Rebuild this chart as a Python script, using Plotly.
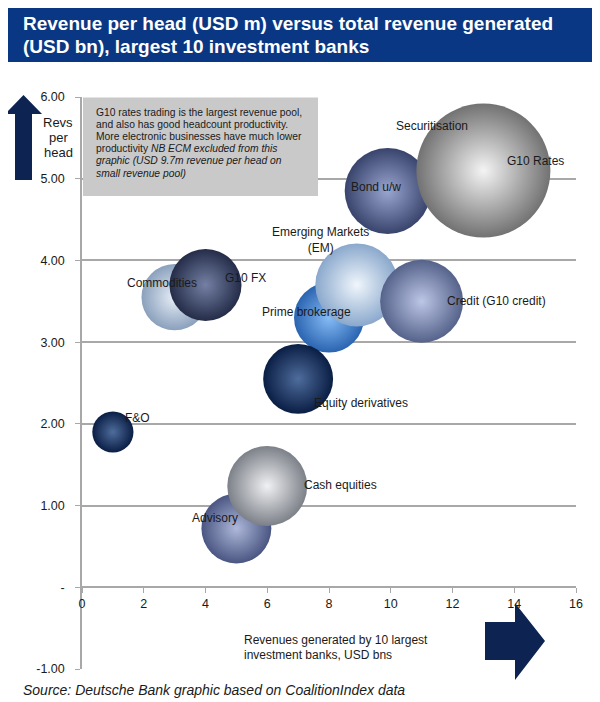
import plotly.graph_objects as go

# ---------------- data ----------------
categories = ["Commodities", "G10 FX", "Prime brokerage", "Emerging Markets<br>(EM)",
              "Credit (G10 credit)", "Securitisation", "Bond u/w", "G10 Rates",
              "Equity derivatives", "F&O", "Advisory", "Cash equities"]
revenue_bn = [3.0, 4.0, 8.0, 8.9, 11.0, 12.3, 9.9, 13.0, 7.0, 1.0, 5.0, 6.0]
rev_per_head_m = [3.55, 3.7, 3.3, 3.7, 3.5, 5.2, 4.85, 5.1, 2.55, 1.9, 0.72, 1.24]
bubble_size = [4.4, 5.2, 4.9, 6.9, 6.9, 6.1, 7.4, 18.0, 4.9, 1.7, 4.9, 6.4]

x_ticks = [0, 2, 4, 6, 8, 10, 12, 14, 16]
y_tick_vals = [-1, 0, 1, 2, 3, 4, 5, 6]
y_tick_text = ["-1.00", "-", "1.00", "2.00", "3.00", "4.00", "5.00", "6.00"]

title_lines = ["Revenue per head (USD m) versus total revenue generated",
               "(USD bn), largest 10 investment banks"]
note_lines = ["G10 rates trading is the largest revenue pool,",
              "and also has good headcount productivity.",
              "More electronic businesses have much lower",
              "productivity <i>NB ECM excluded from this</i>",
              "<i>graphic (USD 9.7m revenue per head on</i>",
              "<i>small revenue pool)</i>"]
y_title_lines = ["Revs", "per", "head"]
x_title_lines = ["Revenues generated by 10 largest", "investment banks, USD bns"]
source_text = "<i>Source: Deutsche Bank graphic based on CoalitionIndex data</i>"

# ---------------- styles ----------------
edge_colors = ["#8aa0bc", "#242c48", "#2a64b0", "#8aa8cc", "#55628a", "#808080",
               "#38446c", "#727272", "#0a1e44", "#0a1e44", "#4a5682", "#7c8088"]
center_colors = ["#e8eff8", "#7480a4", "#86bcf6", "#f0f6fc", "#bcc6e6", "#eeeeee",
                 "#9aa6d0", "#f4f4f4", "#4e6c9c", "#4e6c9c", "#aeb8da", "#f0f1f3"]
# label offsets in pixels (dx right, dy down) from bubble centre
label_offsets = [(-13, -14), (40, -7), (-23, -6), (-36, -45), (75, 0), (-30, -36),
                 (-12, -4), (52, -10), (63, 24), (25, -14), (-21, -10), (73, -1)]

# page has an 8px body margin; figure is sized to fit the 600x702 window
OFF = 8
W, H = 600 - OFF, 702 - OFF
# plot-area edges in window pixels
PL, PR, PT, PB = 82, 576, 97, 669
NAVY = "#0d2452"
GRID = "#a8a8a8"
FONT = "Liberation Sans, Arial, sans-serif"
TXT = "#1a1a1a"


def px(x):
    return (x - PL) / (PR - PL)


def py(y):
    return (PB - y) / (PB - PT)


max_d = 134
sizeref = 2.0 * max(bubble_size) / (max_d ** 2)

fig = go.Figure()
fig.add_trace(go.Scatter(
    x=revenue_bn, y=rev_per_head_m, mode="markers",
    text=categories, hoverinfo="text",
    marker=dict(size=bubble_size, sizemode="area", sizeref=sizeref,
                color=edge_colors,
                gradient=dict(type="radial", color=center_colors),
                line=dict(width=0), opacity=1),
    cliponaxis=False, showlegend=False,
))

annotations = []
for name, xv, yv, (dx, dy) in zip(categories, revenue_bn, rev_per_head_m, label_offsets):
    annotations.append(dict(x=xv, y=yv, xref="x", yref="y", text=name, showarrow=False,
                            xshift=dx, yshift=-dy, font=dict(family=FONT, size=12, color=TXT),
                            xanchor="center", yanchor="middle", align="center"))

# title
for i, line in enumerate(title_lines):
    annotations.append(dict(x=px(21), y=py(23 + 23 * i), xref="paper", yref="paper",
                            text="<b>" + line + "</b>", showarrow=False, xanchor="left",
                            yanchor="middle", font=dict(family=FONT, size=19, color="white")))
# note box text
for i, line in enumerate(note_lines):
    annotations.append(dict(x=px(94), y=py(112 + 12.2 * i), xref="paper", yref="paper",
                            text=line, showarrow=False, xanchor="left", yanchor="middle",
                            font=dict(family=FONT, size=10.3, color=TXT)))
# y title
for i, line in enumerate(y_title_lines):
    annotations.append(dict(x=px(58), y=py(123 + 14.5 * i), xref="paper", yref="paper",
                            text=line, showarrow=False, xanchor="center", yanchor="middle",
                            font=dict(family=FONT, size=13, color=TXT)))
# x title
for i, line in enumerate(x_title_lines):
    annotations.append(dict(x=px(242), y=py(640 + 14.5 * i), xref="paper", yref="paper",
                            text=line, showarrow=False, xanchor="left", yanchor="middle",
                            font=dict(family=FONT, size=12, color=TXT)))
# source
annotations.append(dict(x=px(21), y=py(690), xref="paper", yref="paper", text=source_text,
                        showarrow=False, xanchor="left", yanchor="middle",
                        font=dict(family=FONT, size=14, color=TXT)))


def path(points):
    s = "M " + " L ".join(f"{px(a):.5f},{py(b):.5f}" for a, b in points) + " Z"
    return s


shapes = [
    dict(type="rect", xref="paper", yref="paper", x0=px(8), x1=px(610), y0=py(4), y1=py(62),
         fillcolor="#0a3784", line=dict(width=0), layer="above"),
    dict(type="rect", xref="paper", yref="paper", x0=px(83), x1=px(318), y0=py(97.5), y1=py(196),
         fillcolor="#c9c9c9", line=dict(width=0), layer="above"),
    dict(type="path", xref="paper", yref="paper",
         path=path([(23.5, 95), (42, 114), (32, 114), (32, 180), (15, 180), (15, 114), (5, 114)]),
         fillcolor=NAVY, line=dict(width=0), layer="above"),
    dict(type="path", xref="paper", yref="paper",
         path=path([(485, 622), (515, 622), (515, 603), (545, 641), (515, 680), (515, 660), (485, 660)]),
         fillcolor=NAVY, line=dict(width=0), layer="above"),
]

fig.update_layout(
    width=W, height=H,
    margin=dict(l=PL - OFF, r=600 - PR, t=PT - OFF, b=H - (PB - OFF), pad=0),
    paper_bgcolor="white", plot_bgcolor="white",
    font=dict(family=FONT, color=TXT),
    xaxis=dict(range=[0, 16], tickvals=x_ticks, ticktext=[str(t) for t in x_ticks],
               anchor="free", position=(0 - y_tick_vals[0]) / (y_tick_vals[-1] - y_tick_vals[0]),
               showgrid=False, zeroline=False, showline=True, linecolor=GRID, linewidth=1.5,
               ticks="outside", ticklen=5, tickcolor=GRID, tickwidth=1.2,
               tickfont=dict(family=FONT, size=12.5, color=TXT)),
    yaxis=dict(range=[-1, 6], tickvals=y_tick_vals, ticktext=y_tick_text,
               showgrid=True, gridcolor=GRID, gridwidth=1.5, zeroline=False,
               showline=True, linecolor=GRID, linewidth=1.5,
               ticks="outside", ticklen=5, tickcolor=GRID, tickwidth=1.2,
               ticklabelstandoff=8,
               tickfont=dict(family=FONT, size=12.5, color=TXT)),
    annotations=annotations,
    shapes=shapes,
)

fig.write_html("out.html")
